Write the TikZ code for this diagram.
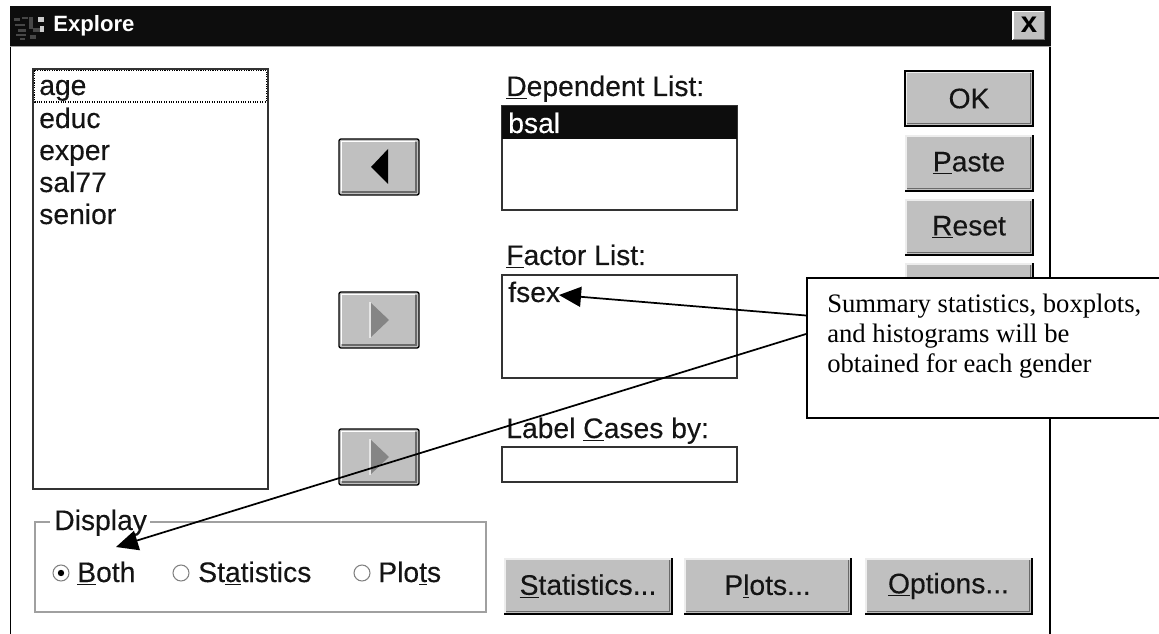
\documentclass[tikz,border=0pt]{standalone}
\usepackage{fontspec}
\setmainfont{Liberation Sans}
\newfontfamily\callfont{Liberation Serif}
\newfontfamily\uifont[FakeBold=0.25]{Liberation Sans}
\usetikzlibrary{arrows.meta,calc}
\definecolor{btngray}{HTML}{C0C0C0}
\definecolor{barblack}{HTML}{0D0D0D}
\definecolor{edgegray}{HTML}{A0A0A0}
\definecolor{btndark}{HTML}{6A6A6A}
\newcommand{\uitext}{\uifont\fontsize{21.2}{24}\selectfont}
\newcommand{\ul}[1]{\underline{#1}}
% name, x0, y0, x1, y1, label
\newcommand{\bevbtn}[6]{%
  \fill[btngray] (#2,#3) rectangle (#4,#5);
  \draw[white!93!black,line width=1.6pt] (#2+1,#5-1) -- (#2+1,#3+1) -- (#4-1,#3+1);
  \draw[btndark,line width=1.2pt] (#2+2,#5-2.5) -- (#4-2.5,#5-2.5) -- (#4-2.5,#3+2);
  \draw[black,line width=1pt] (#2,#5) -- (#4,#5) -- (#4,#3);
  \node[uilabel] (#1) at ({(#2+#4)/2},{(#3+#5)/2}) {#6};
}
\newcommand{\arrowbtn}[5]{%
  \fill[btngray,rounded corners=1.5pt] (#2,#3) rectangle (#4,#5);
  \draw[white,line width=1.1pt] (#2+2.5,#5-4) -- (#2+2.5,#3+2.5) -- (#4-4,#3+2.5);
  \draw[btndark,line width=1.6pt] (#2+3,#5-3) -- (#4-3,#5-3) -- (#4-3,#3+3);
  \draw[black,line width=1pt,rounded corners=1.5pt] (#2,#3) rectangle (#4,#5);
  \coordinate (#1) at ({(#2+#4)/2},{(#3+#5)/2});
}
\newcommand{\disarrow}[1]{%
  \fill[black!48] ($(#1)+(-9,-18)$) -- ($(#1)+(10,0)$) -- ($(#1)+(-9,18)$) -- cycle;
  \draw[white!90!black,line width=.9pt] ($(#1)+(-9,-18)$) -- ($(#1)+(-9,18)$);
}
\tikzset{
  uilabel/.style={font=\uitext,inner sep=0pt,text=black!92},
  uileft/.style={font=\uitext,inner sep=0pt,anchor=base west,text=black!92},
  listbox/.style={draw=black!80,line width=1pt,fill=white},
  callarrow/.style={black,line width=1.3pt,-{Triangle[length=16.5pt,width=15pt]}}
}
\begin{document}
\begin{tikzpicture}[x=0.75pt,y=-0.75pt]
\useasboundingbox (0,0) rectangle (1159,634);
\clip (0,0) rectangle (1159,634);
% window
\draw[black,line width=1pt] (10.5,46) -- (10.5,634);
\draw[black,line width=1pt] (1050,46) -- (1050,634);
\fill[barblack] (10,6) rectangle (1051,46);
\draw[edgegray,line width=.8pt] (10,46.3) -- (1051,46.3);
% icon specks
\foreach \px/\py/\pw/\ph in {14/18/6/3,22/17/6/2,15/24/10/2,18/29/8/3,16/34/10/2,20/38/5/2,29/17/4/12,33/28/7/4,30/35/6/4}{
  \fill[black!72] (\px,\py) rectangle ++(\pw,\ph);}
\fill[black!20] (38,17) rectangle (44,22);
\fill[black!20] (40,26) rectangle (44,32);
\node[inner sep=0pt,anchor=base west,text=white,font=\bfseries\fontsize{16.6}{24}\selectfont] (title) at (53,32) {Explore};
% close button
\fill[btngray] (1012.5,11) rectangle (1045,40);
\draw[white,line width=.8pt] (1013,40) -- (1013,11.5) -- (1045,11.5);
\draw[btndark,line width=1pt] (1013,39.5) -- (1044.5,39.5) -- (1044.5,11);
\node[inner sep=0pt,font=\bfseries\fontsize{22}{24}\selectfont] (closex) at (1029,25) {x};
% variable list
\draw[listbox] (33,69) rectangle (268,489);
\draw[black,line width=.8pt,densely dotted] (34.5,70.5) rectangle (266.5,102);
\node[uileft] (vage) at (39,95) {age};
\node[uileft] (veduc) at (39,128) {educ};
\node[uileft] (vexper) at (39,160) {exper};
\node[uileft] (vsal) at (39,192) {sal77};
\node[uileft] (vsenior) at (39,224) {senior};
% arrow buttons
\arrowbtn{a1}{339}{139}{419}{195}
\fill[black] ($(a1)+(-8,0)$) -- ($(a1)+(9,-18)$) -- ($(a1)+(9,17)$) -- cycle;
\arrowbtn{a2}{339}{292}{419}{348}
\disarrow{a2}
\arrowbtn{a3}{339}{429}{419}{485}
\disarrow{a3}
% dependent list
\node[uileft] (ldep) at (506,96) {\ul{D}ependent List:};
\draw[listbox] (502,106) rectangle (737,210);
\fill[barblack] (502,106) rectangle (737,139);
\node[uileft,text=white] (vbsal) at (508,133) {bsal};
% factor list
\node[uileft] (lfac) at (506,265) {\ul{F}actor List:};
\draw[listbox] (502,275) rectangle (737,378);
\node[uileft] (vfsex) at (508,302) {fsex};
% label cases
\node[uileft] (llab) at (506,438) {Label \ul{C}ases by:};
\draw[listbox] (502,447) rectangle (737,482);
% side buttons
\bevbtn{bok}{905}{71}{1033}{126}{OK}
\draw[black,line width=1.4pt] (905,71) rectangle (1033,126);
\bevbtn{bpaste}{905}{135}{1033}{191}{\ul{P}aste}
\bevbtn{breset}{905}{199}{1033}{255}{\ul{R}eset}
\bevbtn{bhidden}{905}{263}{1033}{320}{}
% bottom buttons
\bevbtn{bstat}{504}{558}{672}{614}{\ul{S}tatistics...}
\bevbtn{bplots}{684}{558}{851}{614}{P\ul{l}ots...}
\bevbtn{bopts}{865}{558}{1032}{614}{\ul{O}ptions...}
% display group
\draw[edgegray,line width=1pt] (50,522) -- (35,522) -- (35,612) -- (486,612) -- (486,522) -- (150,522);
\node[uileft] (ldisp) at (54,530) {Display};
\foreach \n/\cx in {r1/61,r2/181,r3/362}{
  \node[circle,draw=black!50,line width=.8pt,minimum size=12pt,inner sep=0pt] (\n) at (\cx,573) {};
}
\fill[black] (r1) circle[radius=3.2];
\node[uileft] (tboth) at (77,582) {\ul{B}oth};
\node[uileft] (tstat) at (198,582) {St\ul{a}tistics};
\node[uileft] (tplots) at (378,582) {Plo\ul{t}s};
% callout
\node[draw=black,line width=1.15pt,fill=white,anchor=north west,minimum width=270pt,minimum height=105pt,inner sep=0pt] (callout) at (806,277) {};
\node[anchor=base west,inner sep=0pt,font=\callfont\fontsize{20}{24}\selectfont] (c1) at (827,313) {Summary statistics, boxplots,};
\node[anchor=base west,inner sep=0pt,font=\callfont\fontsize{20}{24}\selectfont] (c2) at (827,343) {and histograms will be};
\node[anchor=base west,inner sep=0pt,font=\callfont\fontsize{20}{24}\selectfont] (c3) at (827,373) {obtained for each gender};
% connectors
\coordinate (callA) at (callout.north west |- 0,315.5);
\coordinate (callB) at (callout.north west |- 0,334);
\coordinate (tipF) at (559,295);
\coordinate (tipD) at (116,547);
\draw[callarrow] (callA) -- (tipF);
\draw[callarrow] (callB) -- (tipD);
\end{tikzpicture}
\end{document}
